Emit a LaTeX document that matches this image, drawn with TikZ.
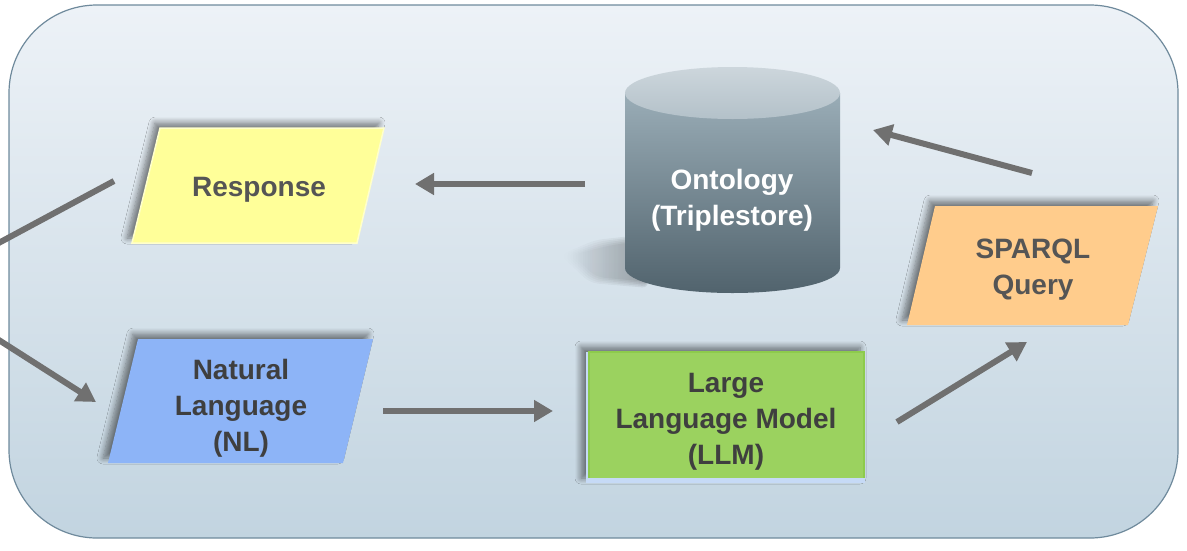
\documentclass[tikz,border=0pt]{standalone}
\usepackage{fontspec}
\setmainfont{Liberation Sans}
\usetikzlibrary{arrows.meta,shadows.blur,fadings}
\definecolor{bgtop}{HTML}{EDF2F7}
\definecolor{bgbot}{HTML}{C2D4E0}
\definecolor{bgborder}{HTML}{6F8A9C}
\definecolor{yel}{HTML}{FFFF99}
\definecolor{yelb}{HTML}{FFFFCC}
\definecolor{blu}{HTML}{8DB4F7}
\definecolor{grn}{HTML}{9BD25F}
\definecolor{grnb}{HTML}{8DCB4C}
\definecolor{lblu}{HTML}{C6DAF6}
\definecolor{peach}{HTML}{FFCC8C}
\definecolor{cyltop}{HTML}{9AADB7}
\definecolor{cylbot}{HTML}{51636D}
\definecolor{captop}{HTML}{CDD6DC}
\definecolor{capbot}{HTML}{B3C1C9}
\definecolor{arrc}{HTML}{707070}
\definecolor{txtA}{HTML}{555555}
\definecolor{txtB}{HTML}{3F3F3F}
\tikzfading[name=fadeleft, left color=transparent!100, right color=transparent!0]
\tikzset{
  lbl/.style={font=\bfseries\fontsize{28}{36}\selectfont, align=center, inner sep=0pt},
  shd/.style={blur shadow={shadow xshift=-5pt, shadow yshift=5pt, shadow blur steps=8, shadow opacity=50, shadow blur radius=6pt}},
  arr/.style={draw=arrc, line width=6pt, -{Triangle[length=19pt,width=21pt]}},
  plainline/.style={draw=arrc, line width=6pt},
  cylshadow/.style={fill=black, opacity=0.07, path fading=fadeleft},
}
\begin{document}
\begin{tikzpicture}[x=1pt,y=-1pt]
\useasboundingbox (0,0) rectangle (1187,550);
\clip (0,0) rectangle (1187,550);
% background panel
\path[draw=bgborder, line width=1.2pt, rounded corners=88pt, top color=bgtop, bottom color=bgbot]
  (9,5) rectangle (1178,538);

% cylinder shadow (soft, layered)
\foreach \d in {0,3,6,9,12}{
  \fill[cylshadow, rounded corners=8pt] (632,236+\d/2) -- (595+\d,240+\d/2) -- (560+\d,255) -- (590+\d/2,283-\d/2) -- (650,288-\d/2) -- cycle;
}

% Response
\path[fill=yel, draw=yelb, line width=1.5pt, shd] (160,128) -- (384,128) -- (357,243) -- (132,243) -- cycle;
\node[lbl, text=txtA] (resp) at (259,190) {Response};

% Natural Language
\path[fill=blu, shd] (138,339) -- (373,339) -- (343,463) -- (108,463) -- cycle;
\node[lbl, text=txtB] (nl) at (241,408) {Natural\\Language\\(NL)};

% LLM
\path[fill=lblu, shd] (586,352) rectangle (865,483);
\path[fill=grn] (589,352) rectangle (865,478);
\draw[grnb, line width=2pt] (589,478) -- (589,352) -- (864,352) -- (864,478);
\node[lbl, text=txtB] (llm) at (726,422) {Large\\Language Model\\(LLM)};

% SPARQL
\path[fill=peach, shd] (935,206) -- (1158,206) -- (1128,325) -- (907,325) -- cycle;
\node[lbl, text=txtA] (sparql) at (1033,270) {SPARQL\\Query};

% Ontology cylinder
\path[top color=cyltop, bottom color=cylbot] (625,93) -- (625,268) arc[start angle=180, end angle=0, x radius=107.5, y radius=25] -- (840,93) -- cycle;
\path[top color=captop, bottom color=capbot] (732.5,93) ellipse[x radius=107.5, y radius=26];
\node[lbl, text=white] (onto) at (732,200) {Ontology\\(Triplestore)};

% connector end points
\coordinate (l1a) at (-20,253);
\coordinate (l1b) at (114,181);
\coordinate (l2a) at (-20,328);
\coordinate (l2b) at (96,402);
\coordinate (nlo) at (383,411);
\coordinate (llmi) at (553,411);
\coordinate (llmo) at (897,422);
\coordinate (spi) at (1027,342);
\coordinate (spo) at (1032,173);
\coordinate (oni) at (873,130);
\coordinate (ono) at (585,184);
\coordinate (rei) at (415,184);

\draw[plainline] (l1a) -- (l1b);
\draw[arr] (l2a) -- (l2b);
\draw[arr] (nlo) -- (llmi);
\draw[arr] (llmo) -- (spi);
\draw[arr] (spo) -- (oni);
\draw[arr] (ono) -- (rei);
\end{tikzpicture}
\end{document}
